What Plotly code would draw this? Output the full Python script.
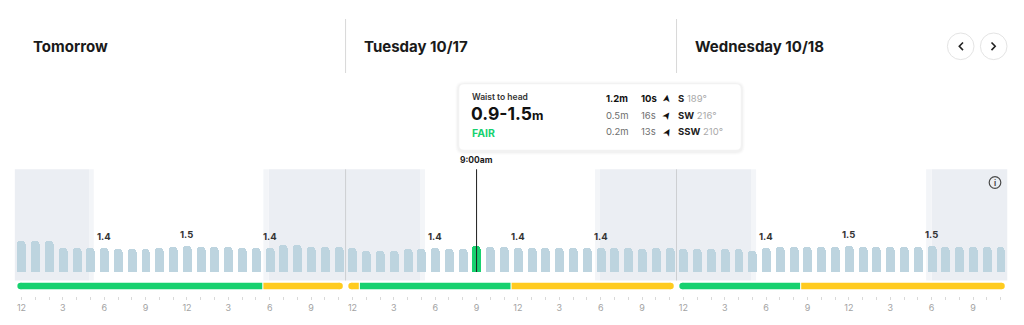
import plotly.graph_objects as go

W, H = 1024, 325

# ---------------------------------------------------------------- data
day_titles = ["Tomorrow", "Tuesday 10/17", "Wednesday 10/18"]

# hourly surf height (m)
surf_day1 = [1.78, 1.80, 1.78, 1.42, 1.42, 1.41, 1.40, 1.35, 1.35, 1.35, 1.42, 1.46,
             1.50, 1.47, 1.45, 1.45, 1.41, 1.39, 1.40, 1.59, 1.59, 1.43, 1.43, 1.43]
surf_day2 = [1.42, 1.21, 1.21, 1.21, 1.31, 1.31, 1.40, 1.36, 1.36, 1.50, 1.45, 1.45,
             1.40, 1.37, 1.37, 1.37, 1.37, 1.37, 1.40, 1.37, 1.37, 1.33, 1.37, 1.37]
surf_day3 = [1.35, 1.35, 1.35, 1.35, 1.35, 1.19, 1.40, 1.45, 1.45, 1.44, 1.45, 1.47,
             1.50, 1.43, 1.43, 1.43, 1.45, 1.45, 1.50, 1.46, 1.46, 1.46, 1.46, 1.46]

# hourly condition rating: F = fair, PF = poor to fair
rating_day1 = ["F", "F", "F", "F", "F", "F", "F", "F", "F", "F", "F", "F",
               "F", "F", "F", "F", "F", "F", "PF", "PF", "PF", "PF", "PF", "PF"]
rating_day2 = ["PF", "F", "F", "F", "F", "F", "F", "F", "F", "F", "F", "F",
               "PF", "PF", "PF", "PF", "PF", "PF", "PF", "PF", "PF", "PF", "PF", "PF"]
rating_day3 = ["F", "F", "F", "F", "F", "F", "F", "F", "F", "PF", "PF", "PF",
               "PF", "PF", "PF", "PF", "PF", "PF", "PF", "PF", "PF", "PF", "PF", "PF"]

# hours of the day that carry a height label
labelled_hours = [6, 12, 18]

# clock tick labels for one day
clock_labels = ["12", "", "", "3", "", "", "6", "", "", "9", "", "",
                "12", "", "", "3", "", "", "6", "", "", "9", "", ""]

# sun times (hours after midnight) per day
first_light = [5.40, 5.40, 5.40]
sunrise = [5.74, 5.76, 5.77]
sunset = [18.04, 18.09, 18.10]
last_light = [18.43, 18.45, 18.50]

# selected hour details
sel_hour = 33
sel_time = "9:00am"
sel_desc = "Waist to head"
sel_range = "0.9-1.5"
sel_rating = "FAIR"
swell_heights = ["1.2m", "0.5m", "0.2m"]
swell_periods = ["10s", "16s", "13s"]
swell_dirs = ["S", "SW", "SSW"]
swell_degs = [189, 216, 210]

# ---------------------------------------------------------------- styling
FONT = "Inter"
BAR_COLOR = "#BDD4DF"
FAIR_GREEN = "#17D16F"
PF_YELLOW = "#FFCB1F"
RATING_COLORS = {"F": FAIR_GREEN, "PF": PF_YELLOW}
NIGHT = "#EBEEF3"
TWILIGHT = "#F3F5F8"

PLOT_L, PLOT_R = 14.6, 1007.5
BAR_TOP, BAR_BASE, BAR_BOTTOM = 169.3, 272.0, 280.5
PX_PER_M = 17.0
STRIP_TOP, STRIP_MID, STRIP_BOTTOM = 280.5, 286.0, 296.0
STRIP_W = 6.5
N_HOURS = 72
HOUR_PX = (PLOT_R - PLOT_L) / N_HOURS


def fx(x):
    return x / W


def fy(y):
    return 1 - y / H


def data_to_px(t):
    return PLOT_L + t * HOUR_PX


surf = surf_day1 + surf_day2 + surf_day3
ratings = rating_day1 + rating_day2 + rating_day3
hours = list(range(N_HOURS))
clock = clock_labels * 3
slot_mid = [h + 0.5 for h in hours]

y_rng = [-(BAR_BOTTOM - BAR_BASE) / PX_PER_M, (BAR_BASE - BAR_TOP) / PX_PER_M]
strip_y = (STRIP_BOTTOM - STRIP_MID) / (STRIP_BOTTOM - STRIP_TOP)

fig = go.Figure()

# ---------------------------------------------------------------- bars
bar_colors = [FAIR_GREEN if h == sel_hour else BAR_COLOR for h in hours]
fig.add_trace(go.Bar(
    x=slot_mid, y=surf, width=0.65,
    marker=dict(color=bar_colors, cornerradius=3, line_width=0),
    xaxis="x", yaxis="y", hoverinfo="skip",
))

# ---------------------------------------------------------------- rating strip
pad = 0.2
cap_r = (STRIP_W / 2) / HOUR_PX
gap = 0.04
for d in range(3):
    start = d * 24
    end = start + 24
    runs = []
    a = start
    for h in range(start + 1, end + 1):
        if h == end or ratings[h] != ratings[a]:
            runs.append((a, h, ratings[a]))
            a = h
    for (a, b, r) in runs:
        col = RATING_COLORS[r]
        xs = a + pad + cap_r if a == start else a + gap
        xe = b - pad - cap_r if b == end else b - gap
        fig.add_trace(go.Scatter(
            x=[xs, xe], y=[strip_y, strip_y], mode="lines",
            line=dict(color=col, width=STRIP_W),
            xaxis="x2", yaxis="y2", hoverinfo="skip",
        ))
        caps = []
        if a == start:
            caps.append(xs)
        if b == end:
            caps.append(xe)
        if caps:
            fig.add_trace(go.Scatter(
                x=caps, y=[strip_y] * len(caps), mode="markers",
                marker=dict(color=col, size=STRIP_W, line_width=0),
                xaxis="x2", yaxis="y2", hoverinfo="skip",
            ))

shapes = []
annotations = []

# ---------------------------------------------------------------- night shading
dark_spans = [(0, first_light[0])]
for d in range(3):
    nxt = (d + 1) * 24 + first_light[d + 1] if d < 2 else N_HOURS
    dark_spans.append((d * 24 + last_light[d], nxt))
for (a, b) in dark_spans:
    shapes.append(dict(type="rect", xref="x", yref="y domain", x0=a, x1=b, y0=0, y1=1,
                       fillcolor=NIGHT, line_width=0, layer="below"))
for d in range(3):
    for (a, b) in [(first_light[d], sunrise[d]), (sunset[d], last_light[d])]:
        shapes.append(dict(type="rect", xref="x", yref="y domain",
                           x0=d * 24 + a, x1=d * 24 + b, y0=0, y1=1,
                           fillcolor=TWILIGHT, line_width=0, layer="below"))

# day dividers in the chart and in the header
for d in (1, 2):
    shapes.append(dict(type="line", xref="x", yref="y domain", x0=d * 24, x1=d * 24,
                       y0=0, y1=1, line=dict(color="#CDCFD2", width=1), layer="below"))
    xp = fx(data_to_px(d * 24))
    shapes.append(dict(type="line", xref="paper", yref="paper", x0=xp, x1=xp,
                       y0=fy(19), y1=fy(73), line=dict(color="#D8D8D8", width=1)))

# day titles
for d, title in enumerate(day_titles):
    annotations.append(dict(
        text=f"<b>{title}</b>", xref="paper", yref="paper",
        x=fx(data_to_px(d * 24) + 16), y=fy(46.5), xanchor="left", yanchor="middle",
        showarrow=False, font=dict(family=FONT, size=15, color="#1A1A1A"),
    ))

# height labels
for d in range(3):
    for hh in labelled_hours:
        h = d * 24 + hh
        annotations.append(dict(
            text=f"<b>{surf[h]:.1f}</b>", xref="x", yref="y", x=h + 0.5, y=surf[h],
            yshift=12, xanchor="center", yanchor="middle", showarrow=False,
            font=dict(family=FONT, size=9.5, color="#333333"),
        ))

# selected-hour marker line and time
shapes.append(dict(type="line", xref="x", yref="y", x0=sel_hour + 0.5, x1=sel_hour + 0.5,
                   y0=0, y1=y_rng[1] + 0.1, line=dict(color="#1E1E1E", width=1)))
annotations.append(dict(
    text=f"<b>{sel_time}</b>", xref="x", yref="paper", x=sel_hour + 0.5, y=fy(160),
    xanchor="center", yanchor="middle", showarrow=False,
    font=dict(family=FONT, size=8.5, color="#1A1A1A"),
))


# ---------------------------------------------------------------- tooltip card
def rounded_rect(x0, y0, x1, y1, r):
    pts = [
        ("M", [(x0 + r, y0)]), ("L", [(x1 - r, y0)]), ("Q", [(x1, y0), (x1, y0 + r)]),
        ("L", [(x1, y1 - r)]), ("Q", [(x1, y1), (x1 - r, y1)]), ("L", [(x0 + r, y1)]),
        ("Q", [(x0, y1), (x0, y1 - r)]), ("L", [(x0, y0 + r)]), ("Q", [(x0, y0), (x0 + r, y0)]),
    ]
    s = ""
    for cmd, ps in pts:
        s += cmd + " " + " ".join(f"{fx(px):.5f},{fy(py):.5f}" for px, py in ps) + " "
    return s + "Z"


TX0, TY0, TX1, TY1 = 459, 84, 741, 150
for i, alpha in enumerate([0.010, 0.016, 0.022]):
    g = 4 - i
    shapes.append(dict(type="path", xref="paper", yref="paper",
                       path=rounded_rect(TX0 - g, TY0 - g + 1, TX1 + g, TY1 + g + 1, 5 + g),
                       fillcolor=f"rgba(0,0,0,{alpha})", line_width=0))
shapes.append(dict(type="path", xref="paper", yref="paper",
                   path=rounded_rect(TX0, TY0, TX1, TY1, 5),
                   fillcolor="white", line=dict(color="#F2F2F2", width=0.5)))

annotations.append(dict(
    text=sel_desc, xref="paper", yref="paper", x=fx(469.5), y=fy(97),
    xanchor="left", yanchor="middle", showarrow=False,
    font=dict(family=FONT, size=8.5, color="#333333", weight=600),
))
annotations.append(dict(
    text=f"<b>{sel_range}</b><span style='font-size:12.5px'><b>m</b></span>",
    xref="paper", yref="paper", x=fx(469), y=fy(114),
    xanchor="left", yanchor="middle", showarrow=False,
    font=dict(family=FONT, size=17.5, color="#111111"),
))
annotations.append(dict(
    text=f"<b>{sel_rating}</b>", xref="paper", yref="paper", x=fx(469.5), y=fy(133.5),
    xanchor="left", yanchor="middle", showarrow=False,
    font=dict(family=FONT, size=10.5, color=FAIR_GREEN),
))

row_y = [98.5, 115, 131.5]
for i in range(3):
    primary = i == 0
    col = "#111111" if primary else "#6E6E6E"
    wrap = (lambda s: f"<b>{s}</b>") if primary else (lambda s: s)
    annotations.append(dict(
        text=wrap(swell_heights[i]), xref="paper", yref="paper", x=fx(603.5), y=fy(row_y[i]),
        xanchor="left", yanchor="middle", showarrow=False,
        font=dict(family=FONT, size=9.5, color=col),
    ))
    annotations.append(dict(
        text=wrap(swell_periods[i]), xref="paper", yref="paper", x=fx(638.5), y=fy(row_y[i]),
        xanchor="left", yanchor="middle", showarrow=False,
        font=dict(family=FONT, size=9.5, color=col),
    ))
    ang = ((swell_degs[i] + 90 + 180) % 360) - 180
    annotations.append(dict(
        text="➤", xref="paper", yref="paper", x=fx(666.5), y=fy(row_y[i]),
        xanchor="center", yanchor="middle", showarrow=False, textangle=ang,
        font=dict(family="DejaVu Sans", size=10.5, color="#111111"),
    ))
    annotations.append(dict(
        text=f"<b>{swell_dirs[i]}</b> <span style='color:#A9A9A9'>{swell_degs[i]}°</span>",
        xref="paper", yref="paper", x=fx(676), y=fy(row_y[i]),
        xanchor="left", yanchor="middle", showarrow=False,
        font=dict(family=FONT, size=9.5, color="#222222"),
    ))

# ---------------------------------------------------------------- nav buttons
for cx, pts in [(960.7, [(963, 42.5), (959.3, 46.3), (963, 50.1)]),
                (993.7, [(991.5, 42.5), (995.2, 46.3), (991.5, 50.1)])]:
    shapes.append(dict(type="circle", xref="paper", yref="paper",
                       x0=fx(cx - 13.3), x1=fx(cx + 13.3), y0=fy(46.3 + 13.3), y1=fy(46.3 - 13.3),
                       line=dict(color="#E4E4E4", width=1), fillcolor="white"))
    path = "M " + " L ".join(f"{fx(px):.5f},{fy(py):.5f}" for px, py in pts)
    shapes.append(dict(type="path", xref="paper", yref="paper", path=path,
                       line=dict(color="#222222", width=1.6)))

# info icon
shapes.append(dict(type="circle", xref="paper", yref="paper",
                   x0=fx(995 - 5.8), x1=fx(995 + 5.8), y0=fy(182.5 + 5.8), y1=fy(182.5 - 5.8),
                   line=dict(color="#4A4A4A", width=1.2)))
annotations.append(dict(
    text="<b>i</b>", xref="paper", yref="paper", x=fx(995), y=fy(182.7),
    xanchor="center", yanchor="middle", showarrow=False,
    font=dict(family=FONT, size=8, color="#4A4A4A"),
))

# ---------------------------------------------------------------- layout
x_dom = [fx(PLOT_L), fx(PLOT_R)]
fig.update_layout(
    width=W, height=H,
    margin=dict(l=0, r=0, t=0, b=0, pad=0),
    paper_bgcolor="white", plot_bgcolor="rgba(0,0,0,0)",
    showlegend=False, bargap=0,
    font=dict(family=FONT),
    xaxis=dict(domain=x_dom, range=[0, N_HOURS], anchor="y", visible=False, fixedrange=True),
    yaxis=dict(domain=[fy(BAR_BOTTOM), fy(BAR_TOP)], range=y_rng, anchor="x",
               visible=False, fixedrange=True),
    xaxis2=dict(domain=x_dom, range=[0, N_HOURS], anchor="y2", showgrid=False,
                zeroline=False, showline=False, ticks="outside", ticklen=3, tickwidth=1,
                tickcolor="#D9D9D9", tickvals=slot_mid, ticktext=clock,
                tickfont=dict(family=FONT, size=9, color="#A3A3A3"), fixedrange=True),
    yaxis2=dict(domain=[fy(STRIP_BOTTOM), fy(STRIP_TOP)], range=[0, 1], anchor="x2",
                visible=False, fixedrange=True),
    shapes=shapes,
    annotations=annotations,
)

fig.write_html("out.html")
